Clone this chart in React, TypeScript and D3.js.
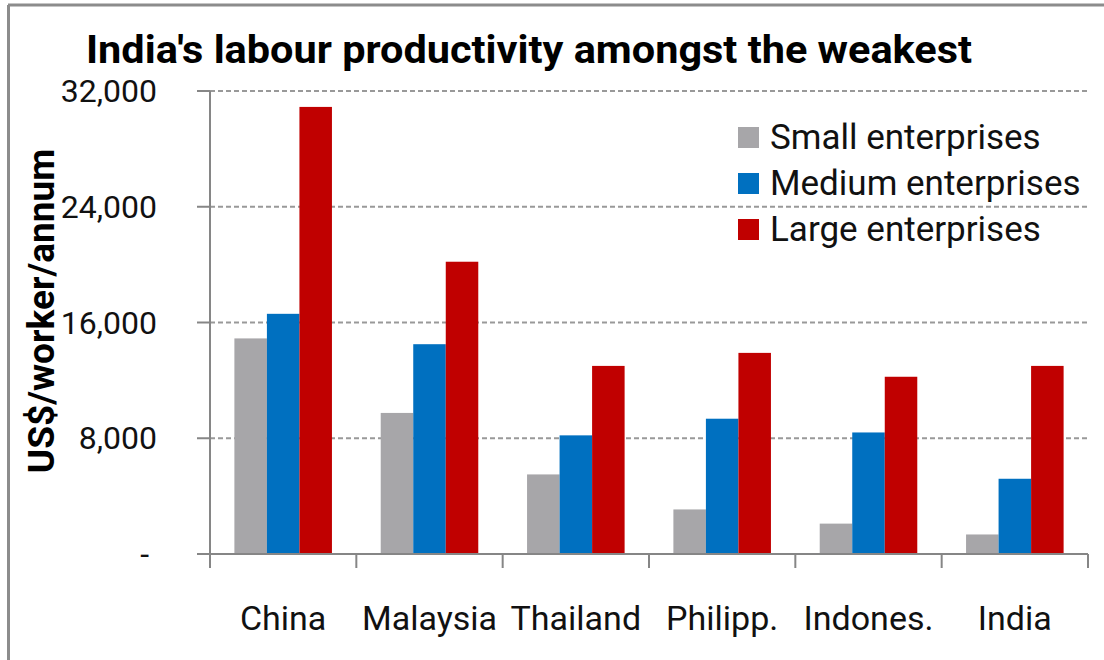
import React from "react";
import * as d3 from "d3";

const title = "India's labour productivity amongst the weakest";
const yAxisTitle = "US$/worker/annum";
const categories = ["China", "Malaysia", "Thailand", "Philipp.", "Indones.", "India"];
const seriesNames = ["Small enterprises", "Medium enterprises", "Large enterprises"];
const smallValues = [14900, 9750, 5500, 3080, 2100, 1350];
const mediumValues = [16600, 14500, 8200, 9350, 8400, 5200];
const largeValues = [30900, 20200, 13000, 13900, 12250, 13000];
const yTicks = [0, 8000, 16000, 24000, 32000];
const colors = ["#a7a6a9", "#0070c0", "#c00000"];

const W = 1104;
const H = 660;
const FONT = "Roboto, 'Liberation Sans', Arial, sans-serif";

export default function App() {
  const left = 210;
  const right = 1088;
  const top = 91;
  const bottom = 554;

  const x0 = d3.scaleBand<string>().domain(categories).range([left, right]).paddingInner(0).paddingOuter(0);
  const x1 = d3
    .scaleBand<string>()
    .domain(seriesNames)
    .range([0, x0.bandwidth()])
    .paddingInner(0)
    .paddingOuter(0.75);
  const y = d3.scaleLinear().domain([0, 32000]).range([bottom, top]);
  const fmt = d3.format(",");
  const seriesValues = [smallValues, mediumValues, largeValues];

  const catEdges = categories.map((c) => x0(c) as number).concat([right]);

  return (
    <svg
      width={W}
      height={H}
      viewBox={`0 0 ${W} ${H}`}
      style={{ position: "absolute", left: 0, top: 0, background: "#fff" }}
    >
      <rect x={0} y={0} width={W} height={H} fill="#fff" />
      {/* frame */}
      <line x1={8} y1={5} x2={W} y2={5} stroke="#8c8c8c" strokeWidth={3} />
      <line x1={8.5} y1={5} x2={8.5} y2={H} stroke="#8c8c8c" strokeWidth={3} />

      {/* title */}
      <text
        x={86}
        y={63}
        fontFamily={FONT}
        fontWeight="bold"
        fontSize={38}
        fill="#000"
        textLength={886}
        lengthAdjust="spacingAndGlyphs"
      >
        {title}
      </text>

      {/* gridlines */}
      {yTicks
        .filter((t) => t > 0)
        .map((t) => (
          <line
            key={"g" + t}
            x1={left}
            x2={right}
            y1={y(t)}
            y2={y(t)}
            stroke="#999"
            strokeWidth={2}
            strokeDasharray="5,3"
          />
        ))}

      {/* bars */}
      {categories.map((c, ci) => (
        <g key={c} transform={`translate(${x0(c)},0)`}>
          {seriesNames.map((s, si) => {
            const v = seriesValues[si][ci];
            return (
              <rect
                key={s}
                x={x1(s)}
                y={y(v)}
                width={x1.bandwidth()}
                height={bottom - y(v)}
                fill={colors[si]}
              />
            );
          })}
        </g>
      ))}

      {/* y axis */}
      <line x1={left} x2={left} y1={top} y2={568} stroke="#868686" strokeWidth={2} />
      {yTicks.map((t) => (
        <g key={"t" + t}>
          <line x1={197} x2={left} y1={y(t)} y2={y(t)} stroke="#868686" strokeWidth={2} />
          <text
            x={t === 0 ? 149 : 157}
            y={y(t) + 11}
            textAnchor="end"
            fontFamily={FONT}
            fontSize={32}
            fill="#111"
          >
            {t === 0 ? "-" : fmt(t)}
          </text>
        </g>
      ))}

      {/* x axis */}
      <line x1={left} x2={right} y1={bottom} y2={bottom} stroke="#868686" strokeWidth={2} />
      {catEdges.map((e, i) => (
        <line key={"xt" + i} x1={e} x2={e} y1={bottom} y2={568} stroke="#868686" strokeWidth={2} />
      ))}
      {categories.map((c) => (
        <text
          key={"xl" + c}
          x={(x0(c) as number) + x0.bandwidth() / 2}
          y={630}
          textAnchor="middle"
          fontFamily={FONT}
          fontSize={34}
          fill="#111"
        >
          {c}
        </text>
      ))}

      {/* y axis title */}
      <text
        transform={`translate(54,${311}) rotate(-90)`}
        textAnchor="middle"
        fontFamily={FONT}
        fontWeight="bold"
        fontSize={37}
        fill="#000"
      >
        {yAxisTitle}
      </text>

      {/* legend */}
      {seriesNames.map((s, i) => (
        <g key={"l" + s} transform={`translate(738,${149 + i * 46})`}>
          <rect x={0} y={-22} width={21} height={21} fill={colors[i]} />
          <text x={32} y={0} fontFamily={FONT} fontSize={35} fill="#111">
            {s}
          </text>
        </g>
      ))}
    </svg>
  );
}
